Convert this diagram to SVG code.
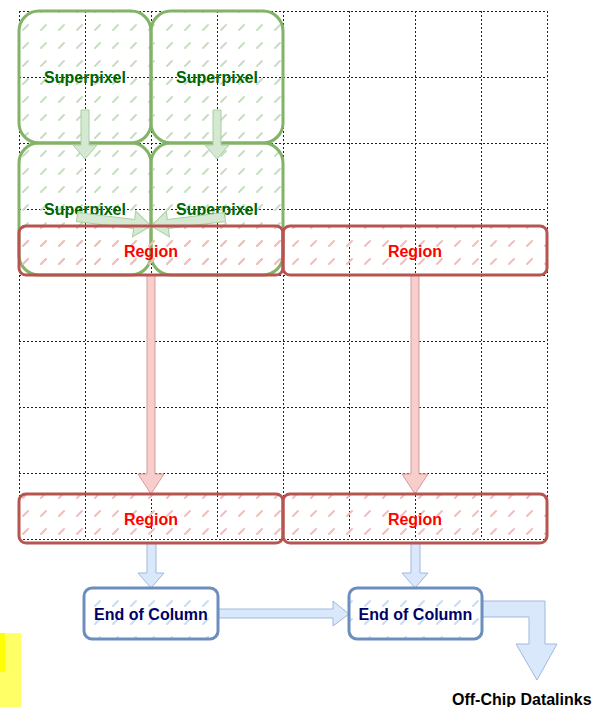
<svg xmlns="http://www.w3.org/2000/svg" width="595" height="707" viewBox="0 0 595 707">
<defs>
<pattern id="hg" patternUnits="userSpaceOnUse" width="18" height="18"><line x1="5" y1="12" x2="10" y2="7" stroke="#c5dfc0" stroke-width="2" stroke-linecap="round"/></pattern>
<pattern id="hr" patternUnits="userSpaceOnUse" width="18" height="18"><line x1="5" y1="12" x2="10" y2="7" stroke="#f5bcb9" stroke-width="2" stroke-linecap="round"/></pattern>
<pattern id="hb" patternUnits="userSpaceOnUse" width="18" height="18"><line x1="5" y1="12" x2="10" y2="7" stroke="#c7dcf8" stroke-width="2" stroke-linecap="round"/></pattern>
</defs>
<style>
.grid line{stroke:#222;stroke-width:1;stroke-dasharray:2 2}
.sp{fill:url(#hg);stroke:#82b366;stroke-width:3}
.rg{fill:url(#hr);stroke:#b85450;stroke-width:3}
.eoc{fill:url(#hb);stroke:#6c8ebf;stroke-width:3}
.t{font-family:"Liberation Sans",Arial,sans-serif;font-weight:bold;font-size:16px;text-anchor:middle}
.tsp{fill:#006600}
.trg{fill:#ff0000}
.teoc{fill:#000066}
.ag{fill:#d5e8d4;stroke:#a9cf9b;stroke-width:1}
.ar{fill:#f8cecc;stroke:#d99c99;stroke-width:1}
.ab{fill:#dae8fc;stroke:#9fb9de;stroke-width:1}
</style>
<rect x="0" y="633" width="21" height="74" fill="#ffff66"/>
<rect x="0" y="633" width="5" height="39" fill="#ffff00"/>
<g class="grid">
<line x1="19" y1="11.5" x2="547" y2="11.5"/><line x1="19" y1="77.5" x2="547" y2="77.5"/><line x1="19" y1="143.5" x2="547" y2="143.5"/><line x1="19" y1="209.5" x2="547" y2="209.5"/><line x1="19" y1="275.5" x2="547" y2="275.5"/><line x1="19" y1="341.5" x2="547" y2="341.5"/><line x1="19" y1="407.5" x2="547" y2="407.5"/><line x1="19" y1="473.5" x2="547" y2="473.5"/><line x1="19" y1="539.5" x2="547" y2="539.5"/>
<line x1="19.5" y1="11" x2="19.5" y2="539"/><line x1="85.5" y1="11" x2="85.5" y2="539"/><line x1="151.5" y1="11" x2="151.5" y2="539"/><line x1="217.5" y1="11" x2="217.5" y2="539"/><line x1="283.5" y1="11" x2="283.5" y2="539"/><line x1="349.5" y1="11" x2="349.5" y2="539"/><line x1="415.5" y1="11" x2="415.5" y2="539"/><line x1="481.5" y1="11" x2="481.5" y2="539"/><line x1="547.5" y1="11" x2="547.5" y2="539"/>
</g>
<g id="sp1"><rect class="sp" x="19" y="11" width="132" height="132" rx="20"/><text class="t tsp" x="85" y="83">Superpixel</text></g>
<g id="sp2"><rect class="sp" x="151" y="11" width="132" height="132" rx="20"/><text class="t tsp" x="217" y="83">Superpixel</text></g>
<g id="sp3"><rect class="sp" x="19" y="143" width="132" height="132" rx="20"/><text class="t tsp" x="85" y="215">Superpixel</text></g>
<g id="sp4"><rect class="sp" x="151" y="143" width="132" height="132" rx="20"/><text class="t tsp" x="217" y="215">Superpixel</text></g>
<g id="connectors">
<polygon class="ag" points="81,110 89,110 89,145 97,145 85,159 73,145 81,145"/>
<polygon class="ag" points="213,110 221,110 221,145 229,145 217,159 205,145 213,145"/>
<g transform="translate(151,226) rotate(6.9)"><polygon class="ag" points="0,0 -17,13 -17,4.5 -74.5,4.5 -74.5,-4.5 -17,-4.5 -17,-13"/></g>
<g transform="translate(151,226) rotate(173.1)"><polygon class="ag" points="0,0 -17,13 -17,4.5 -74.5,4.5 -74.5,-4.5 -17,-4.5 -17,-13"/></g>
<polygon class="ar" points="147,275 155,275 155,474 164,474 151,494 138,474 147,474"/>
<polygon class="ar" points="411,275 419,275 419,474 428,474 415,494 402,474 411,474"/>
<polygon class="ab" points="147,543 156,543 156,573 164,573 151,588 138,573 147,573"/>
<polygon class="ab" points="411,543 420,543 420,573 428,573 415,588 402,573 411,573"/>
<polygon class="ab" points="218,609 333,609 333,601 349,614 333,626 333,618 218,618"/>
<polygon class="ab" points="482,601 545,601 545,644 557,644 537,680 516,644 529,644 529,617 482,617"/>
</g>
<g id="r1"><rect class="rg" x="19" y="226" width="264" height="49" rx="7"/><text class="t trg" x="151" y="257">Region</text></g>
<g id="r2"><rect class="rg" x="283" y="226" width="264" height="49" rx="7"/><text class="t trg" x="415" y="257">Region</text></g>
<g id="r3"><rect class="rg" x="19" y="494" width="264" height="49" rx="7"/><text class="t trg" x="151" y="525">Region</text></g>
<g id="r4"><rect class="rg" x="283" y="494" width="264" height="49" rx="7"/><text class="t trg" x="415" y="525">Region</text></g>
<g id="eoc1"><rect class="eoc" x="84" y="588" width="134" height="51" rx="8"/><text class="t teoc" x="151" y="620">End of Column</text></g>
<g id="eoc2"><rect class="eoc" x="349" y="588" width="133" height="51" rx="8"/><text class="t teoc" x="415.5" y="620">End of Column</text></g>
<g id="offchip"><text class="t" x="452" y="705" style="text-anchor:start" fill="#000">Off-Chip Datalinks</text></g>
</svg>
